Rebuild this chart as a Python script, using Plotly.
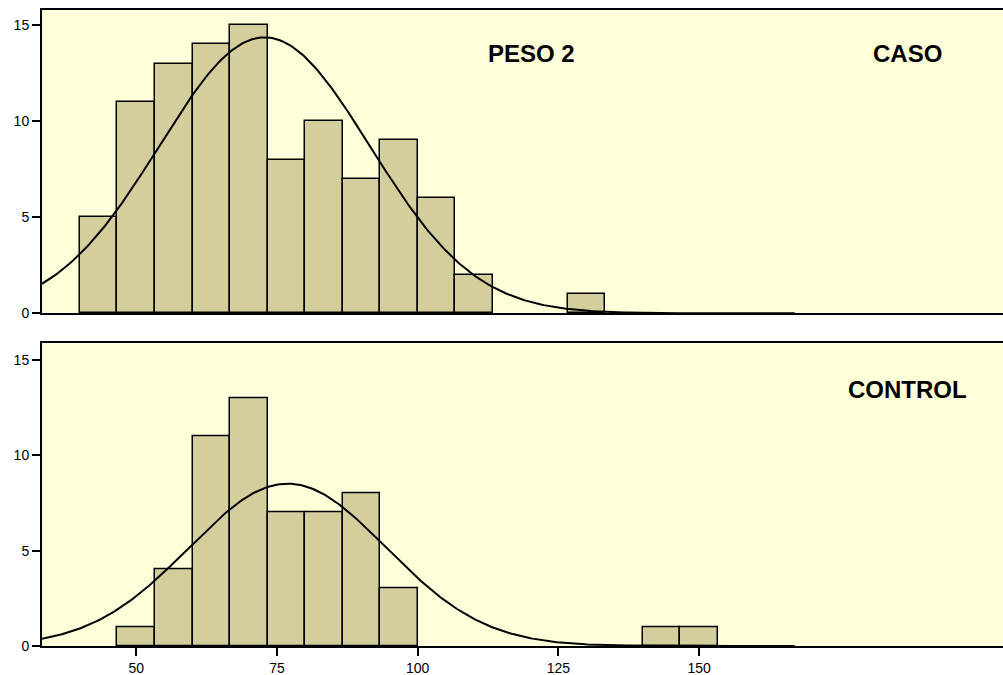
import numpy as np
import plotly.graph_objects as go
from plotly.subplots import make_subplots

# Histogram bins (width 20/3, starting at 40)
bin_start = 40.0
bin_width = 20.0 / 3.0
caso_counts = [5, 11, 13, 14, 15, 8, 10, 7, 9, 6, 2, 0, 0, 1]
control_counts = [0, 1, 4, 11, 13, 7, 7, 8, 3, 0, 0, 0, 0, 0, 0, 1, 1]

# Fitted normal curve parameters
caso_mean, caso_sd = 72.8, 18.7
control_mean, control_sd = 76.9, 17.5
curve_x_start, curve_x_end = 33.26, 167.0

x_ticks = [50, 75, 100, 125, 150]
y_ticks = [0, 5, 10, 15]
panel_labels = ["CASO", "CONTROL"]
var_label = "PESO 2"

BG = "#FFFFD9"
BAR = "#D3CE9B"
FONT = "Liberation Sans, Arial, sans-serif"

fig = make_subplots(rows=2, cols=1, shared_xaxes=False, vertical_spacing=0.0)


def nonzero_bins(counts):
    xs, ys = [], []
    for i, c in enumerate(counts):
        if c > 0:
            xs.append(bin_start + bin_width * (i + 0.5))
            ys.append(c)
    return xs, ys


def curve(counts, mean, sd):
    n = sum(counts)
    xs = np.linspace(curve_x_start, curve_x_end, 400)
    ys = n * bin_width / (sd * np.sqrt(2 * np.pi)) * np.exp(-0.5 * ((xs - mean) / sd) ** 2)
    return xs, ys


for row, (counts, mean, sd) in enumerate(
    [(caso_counts, caso_mean, caso_sd), (control_counts, control_mean, control_sd)], start=1
):
    bx, by = nonzero_bins(counts)
    fig.add_trace(
        go.Bar(
            x=bx,
            y=by,
            width=bin_width,
            marker=dict(color=BAR, line=dict(color="black", width=1.5)),
            showlegend=False,
            hoverinfo="skip",
        ),
        row=row,
        col=1,
    )
    xs, ys = curve(counts, mean, sd)
    fig.add_trace(
        go.Scatter(x=xs, y=ys, mode="lines", line=dict(color="black", width=2),
                   showlegend=False, hoverinfo="skip"),
        row=row,
        col=1,
    )

xr = [33.26, 204.0]
top_dom = [(646 - 313.3) / 636, 1.0]
bot_dom = [0.0, (646 - 343.3) / 636]

fig.update_layout(
    width=1003,
    height=675,
    margin=dict(l=42, r=0, t=10, b=29),
    paper_bgcolor="white",
    plot_bgcolor=BG,
    font=dict(family=FONT, size=14, color="black"),
    bargap=0,
    xaxis=dict(range=xr, domain=[0, 1], showticklabels=False, ticks="", showgrid=False,
               zeroline=False, showline=True, linecolor="black", linewidth=2, mirror=True),
    xaxis2=dict(range=xr, domain=[0, 1], tickvals=x_ticks, ticks="outside", ticklen=8,
                tickwidth=2, tickcolor="black", showgrid=False, zeroline=False,
                showline=True, linecolor="black", linewidth=2, mirror=True,
                tickfont=dict(size=14)),
    yaxis=dict(range=[0, 15.79], domain=top_dom, tickvals=y_ticks, ticks="outside", ticklen=8,
               tickwidth=2, tickcolor="black", showgrid=False, zeroline=False,
               showline=True, linecolor="black", linewidth=2, tickfont=dict(size=14)),
    yaxis2=dict(range=[0, 15.87], domain=bot_dom, tickvals=y_ticks, ticks="outside", ticklen=8,
                tickwidth=2, tickcolor="black", showgrid=False, zeroline=False,
                showline=True, linecolor="black", linewidth=2, tickfont=dict(size=14)),
)

fig.add_annotation(text="<b>" + var_label + "</b>", xref="x", yref="y", x=120.2, y=13.54,
                   showarrow=False, font=dict(size=24, family=FONT))
fig.add_annotation(text="<b>" + panel_labels[0] + "</b>", xref="x", yref="y", x=187.0, y=13.54,
                   showarrow=False, font=dict(size=24, family=FONT))
fig.add_annotation(text="<b>" + panel_labels[1] + "</b>", xref="x2", yref="y2", x=187.0, y=13.44,
                   showarrow=False, font=dict(size=24, family=FONT))

fig.write_html("out.html")
